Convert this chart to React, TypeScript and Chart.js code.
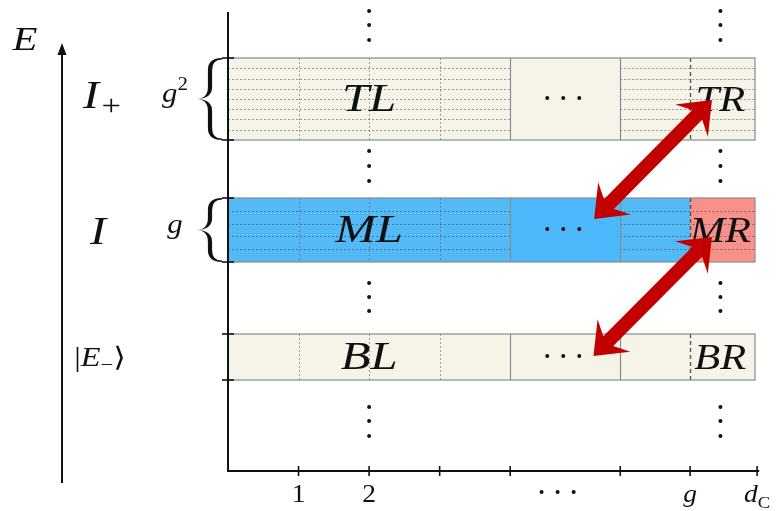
import React, { useEffect, useRef } from "react";
import { Chart, registerables } from "chart.js";

Chart.register(...registerables);

// ---------------- data ----------------
// column boundaries along the d_C axis (x units)
const dottedColumns = [1, 2, 3];
const solidColumns = [4, 5.56];
const gColumn = 6.55;
const xRight = 7.47;
const xTickValues = [1, 2, 3, 4, 5.56, 6.55, 7.5];
const xTickLabels = ["1", "2", "", "", "", "g", "d_C"];
const xEllipsisTickDots = [4.445, 4.672, 4.9];

// energy bands (y units)
const bandNames = ["T", "M", "B"];
const bandBottom = [331, 209, 91];
const bandTop = [413, 273, 137];
const bandRows = [8, 5, 1];
const leftLabels = ["I_+", "I", "|E_-⟩"];
const degeneracyLabels = ["g^2", "g", ""];

// cell blocks: [0,4] left, [4,5.56] ellipsis, [5.56,6.55] right, [6.55,7.47] g..d_C
const cellBlockEdges = [0, 4, 5.56, 6.55, 7.47];
const topBandColors = ["#f6f4e9", "#f6f4e9", "#f6f4e9", "#f6f4e9"];
const midBandColors = ["#54baf6", "#4cb9fc", "#54baf6", "#f8918a"];
const botBandColors = ["#f6f4e9", "#f6f4e9", "#f6f4e9", "#f6f4e9"];
const cellLabelsLeft = ["TL", "ML", "BL"];
const cellLabelsRight = ["TR", "MR", "BR"];
const cellLabelLeftX = 2.0;
const cellLabelRightX = 6.95;
const cellEllipsisX = [4.525, 4.752, 4.979];

// vertical ellipsis dots
const vDotColumnsX = [2.0, 6.98];
const vDotY = [460, 446, 431, 320, 305, 290, 188, 174, 160, 64, 50, 35];

// red double arrows
const arrowFromX = [5.19, 5.18];
const arrowFromY = [252, 115];
const arrowToX = [6.86, 6.86];
const arrowToY = [371, 234];

// ---------------- helpers ----------------
const SERIF = '"Liberation Serif", "DejaVu Serif", serif';

type Piece = { t: string; size: number; italic?: boolean; dy?: number; dx?: number };

function fontOf(p: Piece) {
  return `${p.italic ? "italic " : ""}${p.size}px ${SERIF}`;
}

function drawPieces(ctx: CanvasRenderingContext2D, pieces: Piece[], cx: number, baseline: number, sx = 1) {
  let total = 0;
  const widths = pieces.map((p) => {
    ctx.font = fontOf(p);
    const w = ctx.measureText(p.t).width + (p.dx || 0);
    total += w;
    return w;
  });
  ctx.save();
  ctx.translate(cx, baseline);
  ctx.scale(sx, 1);
  let x = -total / 2;
  ctx.textAlign = "left";
  ctx.textBaseline = "alphabetic";
  pieces.forEach((p, i) => {
    ctx.font = fontOf(p);
    ctx.fillText(p.t, x + (p.dx || 0), p.dy || 0);
    x += widths[i];
  });
  ctx.restore();
}

function mathPieces(label: string, size: number): Piece[] {
  if (label === "I_+") return [{ t: "I", size, italic: true }, { t: "+", size: size * 0.72, dy: size * 0.17, dx: 2 }];
  if (label === "I") return [{ t: "I", size, italic: true }];
  if (label === "|E_-⟩")
    return [
      { t: "|", size },
      { t: "E", size, italic: true },
      { t: "−", size: size * 0.7, dy: size * 0.2 },
      { t: "⟩", size },
    ];
  if (label === "g^2") return [{ t: "g", size, italic: true }, { t: "2", size: size * 0.68, dy: -size * 0.42 }];
  if (label === "g") return [{ t: "g", size, italic: true }];
  if (label === "d_C") return [{ t: "d", size, italic: true }, { t: "C", size: size * 0.68, dy: size * 0.22 }];
  if (/^\d+$/.test(label)) return [{ t: label, size }];
  return [{ t: label, size, italic: true }];
}

function drawBrace(ctx: CanvasRenderingContext2D, xr: number, xl: number, y0: number, y1: number, w: number) {
  const xm = (xr + xl) / 2 + 1;
  const ym = (y0 + y1) / 2;
  const c = Math.min(12, (y1 - y0) / 5);
  ctx.beginPath();
  ctx.moveTo(xr, y0);
  ctx.quadraticCurveTo(xm - w / 2, y0, xm - w / 2, y0 + c);
  ctx.lineTo(xm - w / 2, ym - c);
  ctx.quadraticCurveTo(xm - w / 2, ym, xl, ym);
  ctx.quadraticCurveTo(xm - w / 2, ym, xm - w / 2, ym + c);
  ctx.lineTo(xm - w / 2, y1 - c);
  ctx.quadraticCurveTo(xm - w / 2, y1, xr, y1);
  ctx.lineTo(xr, y1 - 1.4);
  ctx.quadraticCurveTo(xm + w / 2, y1 - 1.4, xm + w / 2, y1 - c);
  ctx.lineTo(xm + w / 2, ym + c);
  ctx.quadraticCurveTo(xm + w / 2, ym, xl, ym);
  ctx.quadraticCurveTo(xm + w / 2, ym, xm + w / 2, ym - c);
  ctx.lineTo(xm + w / 2, y0 + c);
  ctx.quadraticCurveTo(xm + w / 2, y0 + 1.4, xr, y0 + 1.4);
  ctx.closePath();
  ctx.fill();
}

function drawDoubleArrow(ctx: CanvasRenderingContext2D, x1: number, y1: number, x2: number, y2: number) {
  const dx = x2 - x1;
  const dy = y2 - y1;
  const L = Math.hypot(dx, dy);
  const ux = dx / L;
  const uy = dy / L;
  const px = -uy;
  const py = ux;
  const hw = 7;
  const hl = 29;
  const nl = 21;
  const hb = 23;
  const P = (a: number, p: number): [number, number] => [x1 + ux * a + px * p, y1 + uy * a + py * p];
  const pts = [
    P(0, 0),
    P(hl, hb),
    P(nl, hw),
    P(L - nl, hw),
    P(L - hl, hb),
    P(L, 0),
    P(L - hl, -hb),
    P(L - nl, -hw),
    P(nl, -hw),
    P(hl, -hb),
  ];
  ctx.beginPath();
  ctx.moveTo(pts[0][0], pts[0][1]);
  for (let i = 1; i < pts.length; i++) ctx.lineTo(pts[i][0], pts[i][1]);
  ctx.closePath();
  ctx.fill();
}

const diagramPlugin = {
  id: "diagram",
  beforeDatasetsDraw(chart: any) {
    const ctx: CanvasRenderingContext2D = chart.ctx;
    const X = (v: number) => chart.scales.x.getPixelForValue(v);
    const Y = (v: number) => chart.scales.y.getPixelForValue(v);
    const area = chart.chartArea;
    ctx.save();

    // bands
    const bandColors = [topBandColors, midBandColors, botBandColors];
    bandNames.forEach((_, i) => {
      const yt = Y(bandTop[i]);
      const yb = Y(bandBottom[i]);
      const colors = bandColors[i];
      for (let c = 0; c < colors.length; c++) {
        ctx.fillStyle = colors[c];
        const xa = X(cellBlockEdges[c]);
        const xb = X(cellBlockEdges[c + 1]);
        ctx.fillRect(xa, yt, xb - xa, yb - yt);
      }
      // horizontal dotted sub-levels
      const rows = bandRows[i];
      ctx.strokeStyle = i === 1 ? "rgba(40,70,100,0.55)" : "rgba(90,90,90,0.6)";
      ctx.lineWidth = 1;
      ctx.setLineDash([2, 2]);
      for (let r = 1; r < rows; r++) {
        const yy = Math.round(Y(bandBottom[i] + ((bandTop[i] - bandBottom[i]) * r) / rows)) + 0.5;
        ctx.beginPath();
        ctx.moveTo(X(0), yy);
        ctx.lineTo(X(solidColumns[0]), yy);
        ctx.moveTo(X(solidColumns[1]), yy);
        ctx.lineTo(X(xRight), yy);
        ctx.stroke();
      }
      // vertical dotted columns
      ctx.strokeStyle = "rgba(100,100,100,0.6)";
      dottedColumns.forEach((cx) => {
        const xx = Math.round(X(cx)) + 0.5;
        ctx.beginPath();
        ctx.moveTo(xx, yt);
        ctx.lineTo(xx, yb);
        ctx.stroke();
      });
      // g dashed line
      ctx.setLineDash([4, 3]);
      ctx.lineWidth = 1.4;
      ctx.strokeStyle = "rgba(60,60,60,0.85)";
      const gx = Math.round(X(gColumn)) + 0.5;
      ctx.beginPath();
      ctx.moveTo(gx, yt);
      ctx.lineTo(gx, yb);
      ctx.stroke();
      ctx.setLineDash([]);
      // solid separators
      ctx.strokeStyle = "#8a8a8a";
      ctx.lineWidth = 1.2;
      solidColumns.forEach((cx) => {
        const xx = Math.round(X(cx)) + 0.5;
        ctx.beginPath();
        ctx.moveTo(xx, yt);
        ctx.lineTo(xx, yb);
        ctx.stroke();
      });
      // border
      ctx.strokeRect(X(0), yt, X(xRight) - X(0), yb - yt);

      // cell labels
      ctx.fillStyle = "#111";
      const mid = (yt + yb) / 2;
      drawPieces(ctx, [{ t: cellLabelsLeft[i], size: 39, italic: true }], X(cellLabelLeftX), mid + 12, 1.25);
      drawPieces(ctx, [{ t: cellLabelsRight[i], size: 36, italic: true }], X(cellLabelRightX) + 2, mid + 12, 1.18);

      // left labels
      if (i === 2) {
        drawPieces(ctx, mathPieces(leftLabels[i], 27), area.left - 128, mid + 9, 1.2);
      } else {
        drawPieces(ctx, mathPieces(leftLabels[i], 40), area.left - 128 + (i === 0 ? 2 : -2), mid + (i === 0 ? 9 : 14), 1.2);
      }
      if (degeneracyLabels[i]) {
        drawPieces(ctx, mathPieces(degeneracyLabels[i], 28), area.left - 53, mid + 3, 1.1);
        drawBrace(ctx, area.left - 6, area.left - 32, yt, yb, 4.2);
      }
    });

    // axes
    ctx.strokeStyle = "#111";
    ctx.fillStyle = "#111";
    ctx.lineWidth = 2;
    ctx.beginPath();
    ctx.moveTo(area.left, area.top);
    ctx.lineTo(area.left, area.bottom);
    ctx.lineTo(X(7.53), area.bottom);
    ctx.stroke();
    // y ticks at band edges
    ctx.lineWidth = 1.6;
    bandNames.forEach((_, i) => {
      [bandTop[i], bandBottom[i]].forEach((v) => {
        const yy = Y(v);
        ctx.beginPath();
        ctx.moveTo(area.left - 6, yy);
        ctx.lineTo(area.left + 6, yy);
        ctx.stroke();
      });
    });
    // x ticks
    xTickValues.forEach((v, i) => {
      const xx = X(v);
      ctx.beginPath();
      ctx.moveTo(xx, area.bottom - 5);
      ctx.lineTo(xx, area.bottom + 5);
      ctx.stroke();
      if (xTickLabels[i]) drawPieces(ctx, mathPieces(xTickLabels[i], 25), xx, area.bottom + 31, 1.1);
    });
    // ellipsis below the axis
    xEllipsisTickDots.forEach((v) => {
      ctx.beginPath();
      ctx.arc(X(v), area.bottom + 21, 2, 0, Math.PI * 2);
      ctx.fill();
    });

    // energy axis arrow
    const ax = 62;
    ctx.lineWidth = 2;
    ctx.beginPath();
    ctx.moveTo(ax, 483);
    ctx.lineTo(ax, 52);
    ctx.stroke();
    ctx.beginPath();
    ctx.moveTo(ax, 43);
    ctx.lineTo(ax - 4.5, 55);
    ctx.lineTo(ax + 4.5, 55);
    ctx.closePath();
    ctx.fill();
    drawPieces(ctx, [{ t: "E", size: 34, italic: true }], 25, 50, 1.2);

    ctx.restore();
  },
  afterDatasetsDraw(chart: any) {
    const ctx: CanvasRenderingContext2D = chart.ctx;
    const X = (v: number) => chart.scales.x.getPixelForValue(v);
    const Y = (v: number) => chart.scales.y.getPixelForValue(v);
    ctx.save();
    ctx.fillStyle = "#c30000";
    arrowFromX.forEach((_, i) => {
      drawDoubleArrow(ctx, X(arrowFromX[i]), Y(arrowFromY[i]), X(arrowToX[i]), Y(arrowToY[i]));
    });
    ctx.restore();
  },
};

export default function App() {
  const ref = useRef<HTMLCanvasElement | null>(null);
  useEffect(() => {
    if (!ref.current) return;
    const dots: { x: number; y: number }[] = [];
    vDotColumnsX.forEach((x) => vDotY.forEach((y) => dots.push({ x, y })));
    bandNames.forEach((_, i) => {
      const yc = (bandTop[i] + bandBottom[i]) / 2 + 1;
      cellEllipsisX.forEach((x) => dots.push({ x, y: yc }));
    });

    const chart = new Chart(ref.current, {
      type: "scatter",
      data: {
        datasets: [
          {
            data: dots,
            pointRadius: 2,
            pointHoverRadius: 2,
            pointBackgroundColor: "#111",
            pointBorderWidth: 0,
            clip: false as any,
          },
        ],
      },
      options: {
        responsive: false,
        animation: false,
        events: [],
        layout: { padding: { left: 228, right: 21, top: 12, bottom: 40 } },
        scales: {
          x: { type: "linear", min: 0, max: xRight, display: false },
          y: { type: "linear", min: 0, max: 459, display: false },
        },
        plugins: { legend: { display: false }, tooltip: { enabled: false } },
      },
      plugins: [diagramPlugin],
    });
    return () => chart.destroy();
  }, []);
  return (
    <div style={{ position: "absolute", left: 0, top: 0, width: 776, height: 511, background: "#fff" }}>
      <canvas ref={ref} width={776} height={511} style={{ display: "block" }} />
    </div>
  );
}
